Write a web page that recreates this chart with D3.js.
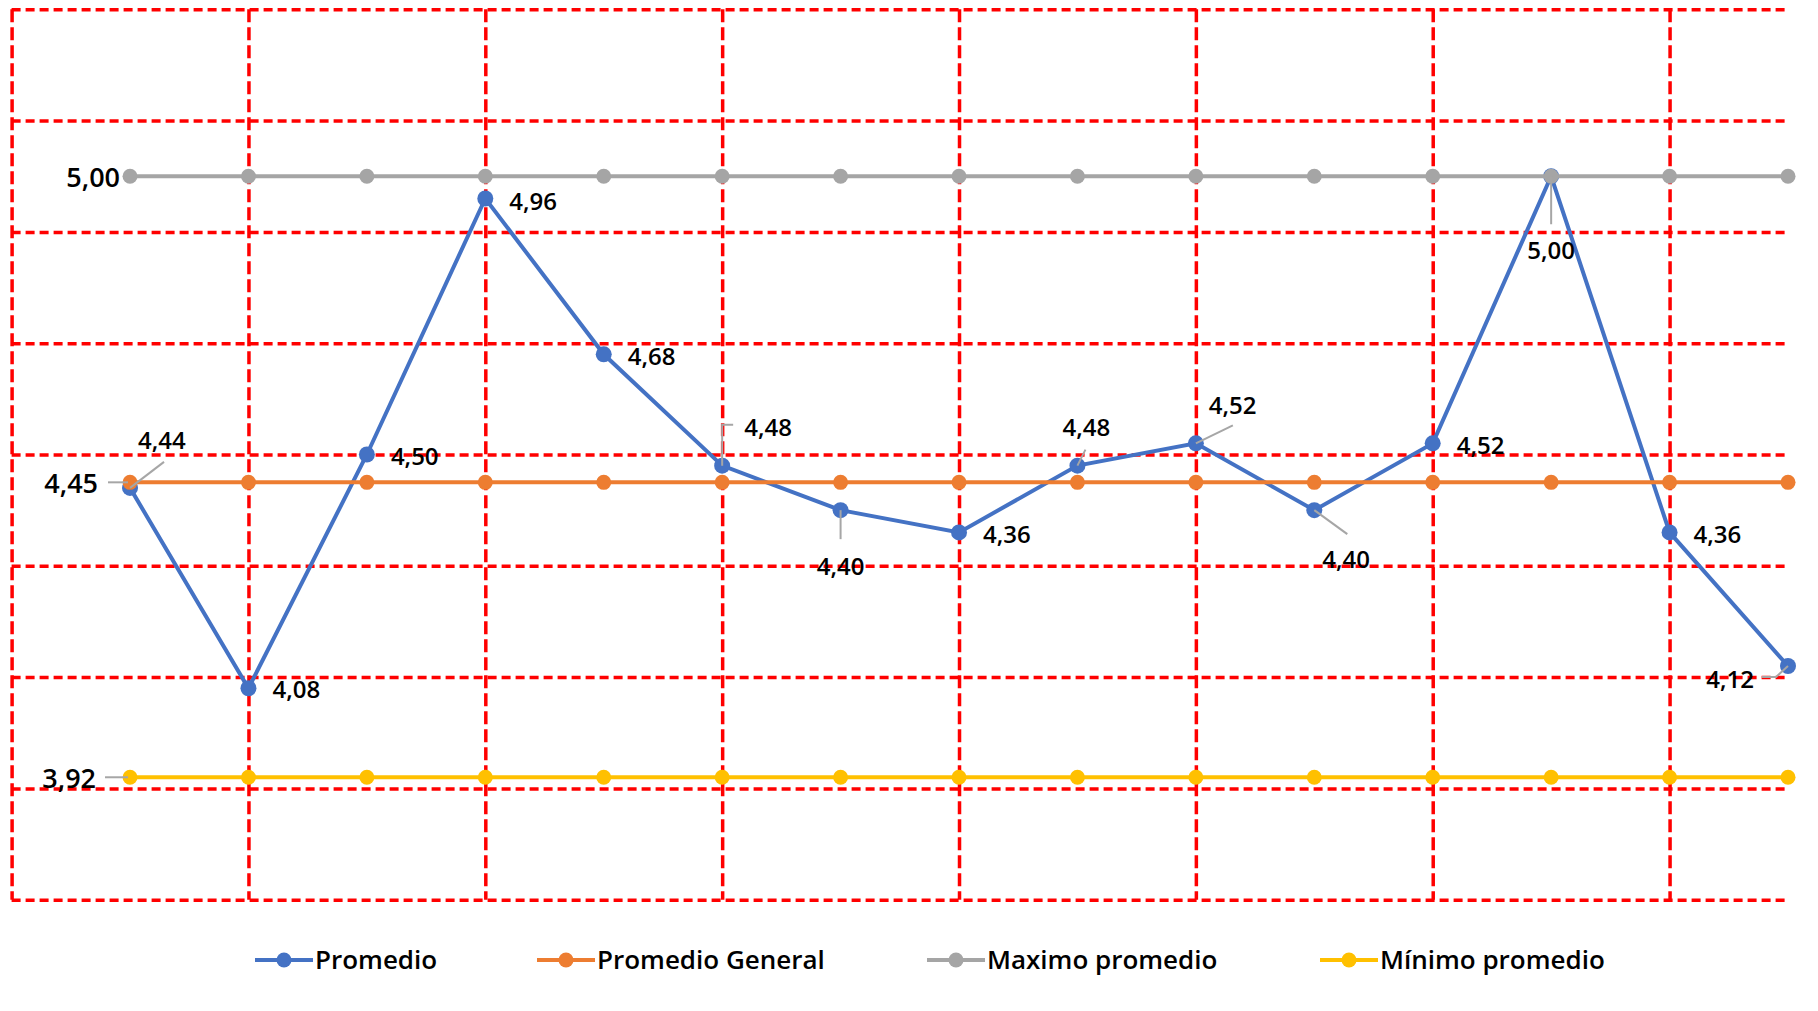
<!DOCTYPE html>
<html>
<head>
<meta charset="utf-8">
<script src="https://cdn.jsdelivr.net/npm/d3@7"></script>
<style>
  body { margin: 0; background: #fff; }
  svg text { font-family: "Open Sans", "Noto Sans", sans-serif; font-weight: 600; fill: #000; }
  .grid line { stroke: #ff0000; stroke-width: 3.5; }
  .grid.h line { stroke-dasharray: 9,5; }
  .grid.v line { stroke-dasharray: 13,5; }
  .grid .domain { display: none; }
  .grid text { display: none; }
  .leader { stroke: #a6a6a6; stroke-width: 2; fill: none; }
</style>
</head>
<body>
<svg id="chart" width="1818" height="1011"></svg>
<script>
// data
const categories = d3.range(1, 16)
const promedio = [4.44, 4.08, 4.50, 4.96, 4.68, 4.48, 4.40, 4.36, 4.48, 4.52, 4.40, 4.52, 5.00, 4.36, 4.12]
const promedioGeneral = categories.map(() => 4.45)
const maximoPromedio = categories.map(() => 5.00)
const minimoPromedio = categories.map(() => 3.92)
const seriesNames = ['Promedio', 'Promedio General', 'Maximo promedio', 'Mínimo promedio']
const seriesColors = ['#4472C4', '#ED7D31', '#A5A5A5', '#FFC000']
const yGridValues = [3.7, 3.9, 4.1, 4.3, 4.5, 4.7, 4.9, 5.1, 5.3]
const xGridValues = [0, 2, 4, 6, 8, 10, 12, 14]

// label placement for each Promedio point: [dx, dy, anchor, leader path points]
const promedioLabelLayout = [
  [8, -47, 'start', [[0, 0], [34, -26]]],
  [24, 1, 'start', null],
  [24, 2, 'start', null],
  [24, 3, 'start', null],
  [24, 2, 'start', null],
  [22, -38, 'start', [[0, 0], [0, -41], [11, -41]]],
  [0, 56, 'middle', [[0, 0], [0, 29]]],
  [24, 2, 'start', null],
  [9, -38, 'middle', [[0, 0], [8, -16]]],
  [13, -38, 'start', [[0, 0], [37, -18]]],
  [8, 49, 'start', [[0, 0], [33, 24]]],
  [24, 2, 'start', null],
  [0, 74, 'middle', [[0, 0], [0, 48]]],
  [24, 2, 'start', null],
  [-34, 14, 'end', [[0, 0], [-12, 11], [-26, 11]]]
]

const svg = d3.select('#chart')
const plotLeft = 11.6
const plotRight = 1788
const plotTop = 9.3
const plotBottom = 899.7

const x = d3.scaleLinear().domain([0, 15]).range([plotLeft, plotRight])
const y = d3.scaleLinear().domain([3.7, 5.3]).range([plotBottom, plotTop])
const fmt = v => d3.format('.2f')(v).replace('.', ',')

// red dashed grid
svg.append('g')
  .attr('class', 'grid h')
  .attr('transform', 'translate(' + plotLeft + ',0)')
  .call(d3.axisLeft(y).tickValues(yGridValues).tickSize(-(plotRight - plotLeft)))
svg.append('g')
  .attr('class', 'grid v')
  .attr('transform', 'translate(0,' + plotTop + ')')
  .call(d3.axisBottom(x).tickValues(xGridValues).tickSize(plotBottom - plotTop))

const allSeries = [promedio, promedioGeneral, maximoPromedio, minimoPromedio]
const line = d3.line().x((d, i) => x(categories[i])).y(d => y(d))

allSeries.forEach(function (values, s) {
  const g = svg.append('g')
  g.append('path')
    .attr('d', line(values))
    .attr('fill', 'none')
    .attr('stroke', seriesColors[s])
    .attr('stroke-width', 4)
  g.selectAll('circle').data(values).join('circle')
    .attr('cx', (d, i) => x(categories[i]))
    .attr('cy', d => y(d))
    .attr('r', s === 0 ? 8 : 7.5)
    .attr('fill', seriesColors[s])
})

// Promedio data labels
const labels = svg.append('g')
promedio.forEach(function (v, i) {
  const px = x(categories[i])
  const py = y(v)
  const lay = promedioLabelLayout[i]
  if (lay[3]) {
    labels.append('path')
      .attr('class', 'leader')
      .attr('d', d3.line()(lay[3].map(p => [px + p[0], py + p[1]])))
  }
  labels.append('text')
    .attr('x', px + lay[0])
    .attr('y', py + lay[1])
    .attr('dy', '0.35em')
    .attr('text-anchor', lay[2])
    .style('font-size', '24px')
    .text(fmt(v))
})

// labels of the reference lines, at the first point
const refLabels = [
  [maximoPromedio[0], -10, null],
  [promedioGeneral[0], -32, [-2, -22]],
  [minimoPromedio[0], -34, [-2, -25]]
]
refLabels.forEach(function (r) {
  const px = x(categories[0])
  const py = y(r[0])
  if (r[2]) {
    labels.append('line')
      .attr('class', 'leader')
      .attr('x1', px + r[2][0]).attr('x2', px + r[2][1])
      .attr('y1', py).attr('y2', py)
  }
  labels.append('text')
    .attr('x', px + r[1])
    .attr('y', py + 1)
    .attr('dy', '0.35em')
    .attr('text-anchor', 'end')
    .style('font-size', '27px')
    .text(fmt(r[0]))
})

// legend
const legendX = [255, 537, 927, 1320]
const legend = svg.append('g').attr('transform', 'translate(0,960)')
seriesNames.forEach(function (name, s) {
  const g = legend.append('g').attr('transform', 'translate(' + legendX[s] + ',0)')
  g.append('line').attr('x1', 0).attr('x2', 58).attr('stroke', seriesColors[s]).attr('stroke-width', 4)
  g.append('circle').attr('cx', 29).attr('r', 7.5).attr('fill', seriesColors[s])
  g.append('text').attr('x', 60).attr('dy', '0.35em').style('font-size', '26px').text(name)
})
</script>
</body>
</html>
